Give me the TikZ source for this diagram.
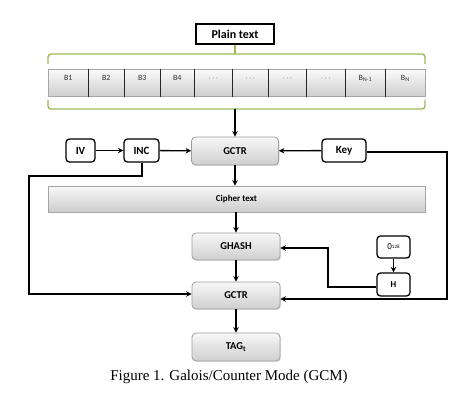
\documentclass[tikz,border=0pt]{standalone}
\usepackage{fontspec}
\setmainfont{Liberation Serif}
\newfontfamily\calfont{Carlito}
\usetikzlibrary{arrows.meta,shadows,positioning}
\definecolor{bracegreen}{HTML}{9BBB59}
\tikzset{
  arr/.style={draw=black, line width=1.3pt, -{Stealth[length=5.5pt,width=5.5pt]}},
  wire/.style={draw=black, line width=1.3pt},
  bracel/.style={draw=bracegreen, line width=1.4pt, rounded corners=3pt},
  whitebox/.style={draw=black, line width=1.3pt, fill=white, rounded corners=3.5pt, font=\calfont\bfseries\fontsize{11}{12}\selectfont, inner sep=0pt},
  graybox/.style={draw=gray!75, line width=0.8pt, rounded corners=4pt, top color=gray!6, bottom color=gray!38, drop shadow={opacity=0.25,shadow xshift=1pt,shadow yshift=-1pt}, font=\calfont\bfseries\fontsize{10.5}{12}\selectfont, inner sep=0pt, minimum width=88pt, minimum height=27pt},
  cell/.style={draw=gray!70, line width=0.6pt, top color=gray!4, bottom color=gray!38, font=\calfont\fontsize{8}{9}\selectfont, text=black!80, inner sep=0pt, minimum height=27pt, anchor=north west, text depth=9pt},
  bar/.style={draw=gray!70, line width=0.8pt, top color=gray!5, bottom color=gray!40, drop shadow={opacity=0.25,shadow xshift=1pt,shadow yshift=-1pt}, font=\calfont\bfseries\fontsize{9}{10}\selectfont, inner sep=0pt},
  divider/.style={draw=black!85, line width=1.4pt},
}
\begin{document}
\begin{tikzpicture}[x=1pt,y=-1pt]
\useasboundingbox (0,0) rectangle (474,403);

% Plain text
\node[draw=black, line width=1.3pt, fill=white, minimum width=78pt, minimum height=20pt, inner sep=0pt, font=\calfont\bfseries\fontsize{12}{13}\selectfont] (plain) at (235,34) {Plain text};

% upper brace
\draw[bracel] (48,64) -- (48,54) -- (425,54) -- (425,64);
\coordinate (ubs) at (235,54);
\draw[draw=bracegreen, line width=1.4pt] (ubs) -- (plain.south);

% blocks
\node[cell, minimum width=40pt] (b1) at (48,69) {B1};
\node[cell, minimum width=36pt] (b2) at (88,69) {B2};
\node[cell, minimum width=36pt] (b3) at (124,69) {B3};
\node[cell, minimum width=34pt] (b4) at (160,69) {B4};
\node[cell, minimum width=38pt] (b5) at (194,69) {$\cdots$};
\node[cell, minimum width=36pt] (b6) at (232,69) {$\cdots$};
\node[cell, minimum width=38pt] (b7) at (268,69) {$\cdots$};
\node[cell, minimum width=39pt] (b8) at (306,69) {$\cdots$};
\node[cell, minimum width=40pt] (b9) at (345,69) {B\textsubscript{N-1}};
\node[cell, minimum width=40pt] (b10) at (385,69) {B\textsubscript{N}};
\foreach \a/\b in {b1/b2,b2/b3,b3/b4,b4/b5,b5/b6,b6/b7,b7/b8,b8/b9,b9/b10}
  \draw[divider] (\a.north east) -- (\a.south east);

% lower brace
\draw[bracel] (48,100) -- (48,109) -- (425,109) -- (425,100);
\coordinate (lbs) at (235,109);

% first row
\node[whitebox, minimum width=29pt, minimum height=23pt] (iv) at (80.5,150.5) {IV};
\node[whitebox, minimum width=35pt, minimum height=23pt] (inc) at (141.5,150.5) {INC};
\node[graybox, minimum width=87pt, minimum height=28pt] (gctr1) at (235,151) {GCTR};
\node[whitebox, minimum width=44pt, minimum height=23pt] (key) at (344,150.5) {Key};

% cipher text
\node[bar, minimum width=377pt, minimum height=26pt] (cipher) at (236.5,199) {Cipher text};

% lower column
\node[graybox] (ghash) at (236,246.5) {GHASH};
\node[graybox] (gctr2) at (236,295.5) {GCTR};
\node[graybox, minimum height=28pt] (tag) at (236,347) {TAG\textsubscript{t}};

\node[whitebox, minimum width=33pt, minimum height=22pt, font=\calfont\fontsize{9}{10}\selectfont] (zero) at (393.5,247) {0\raisebox{1.5pt}{\fontsize{5}{6}\selectfont 128}};
\node[whitebox, minimum width=33pt, minimum height=23pt, font=\calfont\bfseries\fontsize{9}{10}\selectfont] (h) at (393.5,284.5) {H};

% caption
\node[font=\fontsize{15}{17}\selectfont, inner sep=0pt] (cap) at (229,377) {Figure 1. Galois/Counter Mode (GCM)};

% connectors
\draw[arr] (lbs) -- (gctr1.north);
\draw[arr] (iv) -- (inc);
\draw[arr] (inc) -- (gctr1);
\draw[arr] (key) -- (gctr1);
\draw[arr] (gctr1) -- (cipher.north -| gctr1);
\draw[arr] (cipher.south -| ghash) -- (ghash);
\draw[arr] (ghash) -- (gctr2);
\draw[arr] (gctr2) -- (tag);
\draw[arr] (zero) -- (h);

\coordinate (hl) at (328,287);
\draw[arr] (h.west |- hl) -- (hl) |- (ghash.east |- 0,248);

\coordinate (kr) at (447,152);
\coordinate (kb) at (447,299);
\draw[arr] (key.east |- kr) -- (kr) -- (kb) -- (gctr2.east |- kb);

\coordinate (ia) at (142,176);
\coordinate (ib) at (29,176);
\coordinate (ic) at (29,294);
\draw[arr] (inc.south -| ia) -- (ia) -- (ib) -- (ic) -- (gctr2.west |- ic);
\end{tikzpicture}
\end{document}
